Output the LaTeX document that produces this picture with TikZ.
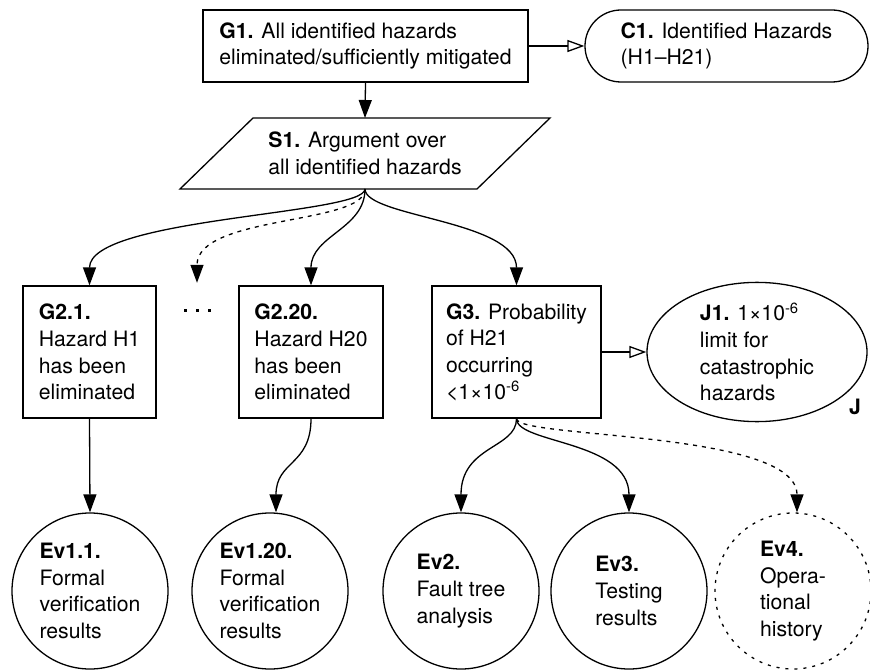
\documentclass[tikz,border=0pt]{standalone}
\usepackage{fontspec}
\setmainfont{TeX Gyre Heros}
\usetikzlibrary{shapes.geometric,shapes.misc,arrows.meta}

\begin{document}
\begin{tikzpicture}[x=1pt,y=-1pt,
  every node/.style={font=\fontsize{21.2}{26.7}\selectfont, align=left, inner sep=0pt},
  goal/.style={draw, rectangle, line width=1.3pt},
  context/.style={draw, rounded rectangle, line width=1.3pt},
  justif/.style={draw, ellipse, line width=1.3pt},
  evid/.style={draw, circle, line width=1.3pt, minimum size=156pt},
  undev/.style={dash pattern=on 4pt off 5pt},
  link/.style={line width=1.3pt, -{Triangle[length=18pt,width=13pt]}},
  ctxlink/.style={line width=1.3pt, -{Triangle[open,length=17pt,width=12pt]}}
]
\useasboundingbox (0,0) rectangle (870,671);

% top goal and its context
\node[goal, minimum width=325pt, minimum height=72pt] (G1) at (365.5,46)
  {\textbf{G1.} All identified hazards\\eliminated/sufficiently mitigated};
\node[context, minimum width=283pt, minimum height=72pt] (C1) at (726.5,46)
  {\textbf{C1.} Identified Hazards\\(H1--H21)};

% strategy
\node (S1) at (365,153.5) {\textbf{S1.} Argument over\\all identified hazards};
\draw[line width=1.3pt] (180,189) -- (253,118) -- (550,118) -- (477,189) -- cycle;
\coordinate (s1t) at (365,118);
\coordinate (s1b) at (365,189);

% sub-goals
\node[goal, minimum width=133pt, minimum height=132pt] (G21) at (89.5,352)
  {\textbf{G2.1.}\\Hazard H1\\has been\\eliminated};
\node (dots) at (197,310) [minimum height=54pt]
  {\rule{3pt}{3pt}\hspace{9pt}\rule{3pt}{3pt}\hspace{9pt}\rule{3pt}{3pt}};
\node[goal, minimum width=144pt, minimum height=132pt] (G220) at (311,352)
  {\textbf{G2.20.}\\Hazard H20\\has been\\eliminated};
\node[goal, minimum width=169pt, minimum height=132pt] (G3) at (516.5,352)
  {\textbf{G3.} Probability\\of H21\\occurring\\<1×10\textsuperscript{-6}};
\node[justif, minimum width=220pt, minimum height=132pt] (J1) at (757,352)
  {\textbf{J1.} 1×10\textsuperscript{-6}\\limit for\\catastrophic\\hazards};
\node (Jtag) at (855,407) {\textbf{J}};

% evidence
\node[evid] (Ev11) at (90,591) {\textbf{Ev1.1.}\\Formal\\verification\\results};
\node[evid] (Ev120) at (270,591) {\textbf{Ev1.20.}\\Formal\\verification\\results};
\node[evid] (Ev2) at (461,591) {\textbf{Ev2.}\\Fault tree\\analysis};
\node[evid] (Ev3) at (629,591) {\textbf{Ev3.}\\Testing\\results};
\node[evid, dash pattern=on 3pt off 6pt] (Ev4) at (793,591) {\textbf{Ev4.}\\Opera-\\tional\\history};

% connectors
\draw[link] (G1.south) -- (s1t);
\draw[ctxlink] (G1.east) -- (C1.west);
\draw[ctxlink] (G3.east) -- (J1.west);

\draw[link] (s1b) .. controls +(0,26) and +(0,-68) .. (G21.north);
\draw[link, undev] (s1b) .. controls +(0,36) and +(0,-68) .. (dots.north);
\draw[link] (s1b) .. controls +(0,40) and +(0,-50) .. (G220.north);
\draw[link] (s1b) .. controls +(0,28) and +(0,-65) .. (G3.north);

\draw[link] (G21.south) -- (Ev11.north);
\draw[link] (G220.south) .. controls +(0,47) and +(0,-52) .. ([xshift=6pt]Ev120.north);
\draw[link] (G3.south) .. controls +(0,30) and +(0,-67) .. (Ev2.north);
\draw[link] (G3.south) .. controls +(0,25) and +(0,-72) .. (Ev3.north);
\draw[link, undev] (G3.south) .. controls +(0,20) and +(0,-82) .. ([xshift=4pt]Ev4.north);
\end{tikzpicture}
\end{document}
